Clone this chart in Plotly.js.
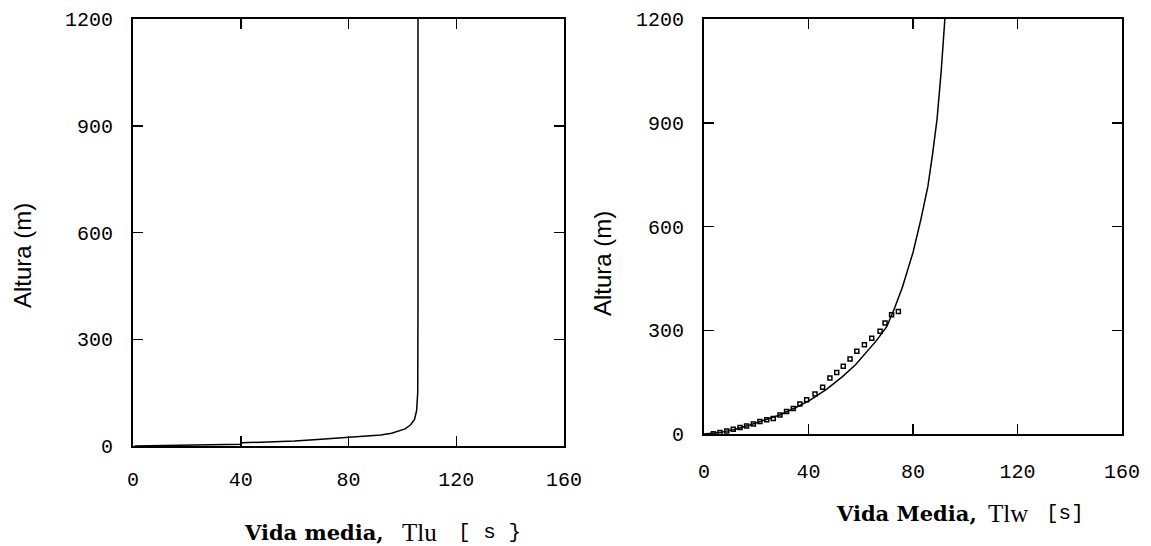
<!DOCTYPE html>
<html>
<head>
<meta charset="utf-8">
<script src="https://cdn.plot.ly/plotly-3.0.1.min.js"></script>
<style>html,body{margin:0;padding:0;background:#fff;}#chart{width:1151px;height:546px;}</style>
</head>
<body>
<div id="chart"></div>
<script>
// Left panel: Tlu profile (solid line)
const tluTime = [0.5, 10, 20, 30, 40, 40.5, 50, 60, 68.5, 80, 88, 92, 96, 98, 101, 103, 104.5, 105.3, 105.7, 105.8, 105.8];
const tluHeight = [0, 1, 2, 3, 5, 9, 11, 14, 18, 24, 28, 31, 36, 40, 48, 59, 75, 100, 150, 400, 1200];

// Right panel: Tlw profile (solid line)
const tlwTime = [0, 6, 12, 17.6, 23, 29, 35, 40.6, 47, 53, 58, 62, 66, 70, 73, 76, 78, 80, 83, 85.7, 87.5, 89.2, 90.8, 92.2];
const tlwHeight = [0, 4, 14, 26, 40, 55, 76, 98, 130, 166, 200, 234, 270, 311, 365, 426, 475, 525, 620, 716, 810, 910, 1050, 1200];

// Right panel: observed points
const obsTime = [3.6, 6.1, 8.7, 11.2, 13.8, 16.3, 18.9, 21.4, 24, 26.5, 29.1, 31.6, 34.2, 36.7, 39.3, 42.5, 45.4, 48.2, 50.8, 53.3, 55.9, 58.5, 61.4, 64.2, 67.4, 69.3, 71.8, 74.4];
const obsHeight = [1, 4, 9, 14, 19, 23, 29, 36, 41, 45, 55, 65, 74, 87, 99, 116, 135, 162, 178, 196, 217, 239, 258, 277, 297, 321, 345, 354];

const xTicks = [0, 40, 80, 120, 160];
const xTickText = ['0', '40', '80', '120', '160'];
const yTicks = [0, 300, 600, 900, 1200];
const yTickText = ['0', '300', '600', '900', '1200'];

const yTitle = 'Altura (m)';
const xTitleLeft = ['Vida media,', 'Tlu', '[ s }'];
const xTitleRight = ['Vida Media,', 'Tlw', '[s]'];

const tickFont = {family: 'Liberation Mono, DejaVu Sans Mono, monospace', size: 20, color: '#000'};

function axisBase(extra) {
  return Object.assign({
    showgrid: false, zeroline: false,
    showline: true, linecolor: '#000', linewidth: 2,
    mirror: 'ticks', ticks: 'inside', ticklen: 10, tickwidth: 1.5, tickcolor: '#000',
    tickfont: tickFont, tickmode: 'array', fixedrange: true
  }, extra);
}

const traces = [
  {x: tluTime, y: tluHeight, type: 'scatter', mode: 'lines', line: {color: '#000', width: 1.5}, xaxis: 'x', yaxis: 'y', showlegend: false},
  {x: tlwTime, y: tlwHeight, type: 'scatter', mode: 'lines', line: {color: '#000', width: 1.5}, xaxis: 'x2', yaxis: 'y2', showlegend: false},
  {x: obsTime, y: obsHeight, type: 'scatter', mode: 'markers', marker: {symbol: 'square-open', size: 4, color: '#000', line: {width: 1.5, color: '#000'}}, xaxis: 'x2', yaxis: 'y2', showlegend: false}
];

const W = 1151, H = 546;
const px = v => v / W;
const py = v => (H - v) / H;

const sansBold = {family: 'DejaVu Serif, serif', size: 21, color: '#000'};
const serifFont = {family: 'Liberation Serif, Times New Roman, serif', size: 25, color: '#000'};
const monoFont = {family: 'Liberation Mono, DejaVu Sans Mono, monospace', size: 21, color: '#000'};
const yTitleFont = {family: 'Liberation Sans, Arial, sans-serif', size: 24, color: '#000'};

function piece(text, x, y, font) {
  return {text: text, xref: 'paper', yref: 'paper', x: px(x), y: py(y), showarrow: false,
          font: font, xanchor: 'left', yanchor: 'middle'};
}

const layout = {
  width: W, height: H,
  margin: {l: 0, r: 0, t: 0, b: 0},
  paper_bgcolor: '#fff', plot_bgcolor: '#fff',
  showlegend: false,
  xaxis: axisBase({domain: [px(133), px(564)], range: [0, 160], tickvals: xTicks, ticktext: xTickText, anchor: 'y', ticklabelstandoff: 14}),
  yaxis: axisBase({domain: [py(446), py(19)], range: [0, 1200], tickvals: yTicks, ticktext: yTickText, anchor: 'x', ticklabelstandoff: 14}),
  xaxis2: axisBase({domain: [px(704), px(1122)], range: [0, 160], tickvals: xTicks, ticktext: xTickText, anchor: 'y2', ticklabelstandoff: 18}),
  yaxis2: axisBase({domain: [py(434), py(19)], range: [0, 1200], tickvals: yTicks, ticktext: yTickText, anchor: 'x2', ticklabelstandoff: 14}),
  annotations: [
    {text: yTitle, textangle: -90, xref: 'paper', yref: 'paper', x: px(22), y: py(256), showarrow: false,
     font: yTitleFont, xanchor: 'center', yanchor: 'middle'},
    {text: yTitle, textangle: -90, xref: 'paper', yref: 'paper', x: px(603), y: py(264), showarrow: false,
     font: yTitleFont, xanchor: 'center', yanchor: 'middle'},
    piece('<b>' + xTitleLeft[0] + '</b>', 242, 532, sansBold),
    piece(xTitleLeft[1], 400, 532, serifFont),
    piece(xTitleLeft[2], 456, 532, monoFont),
    piece('<b>' + xTitleRight[0] + '</b>', 834, 513, sansBold),
    piece(xTitleRight[1], 986, 513, serifFont),
    piece(xTitleRight[2], 1044, 513, monoFont)
  ]
};

Plotly.newPlot('chart', traces, layout, {staticPlot: true, displayModeBar: false});
</script>
</body>
</html>
